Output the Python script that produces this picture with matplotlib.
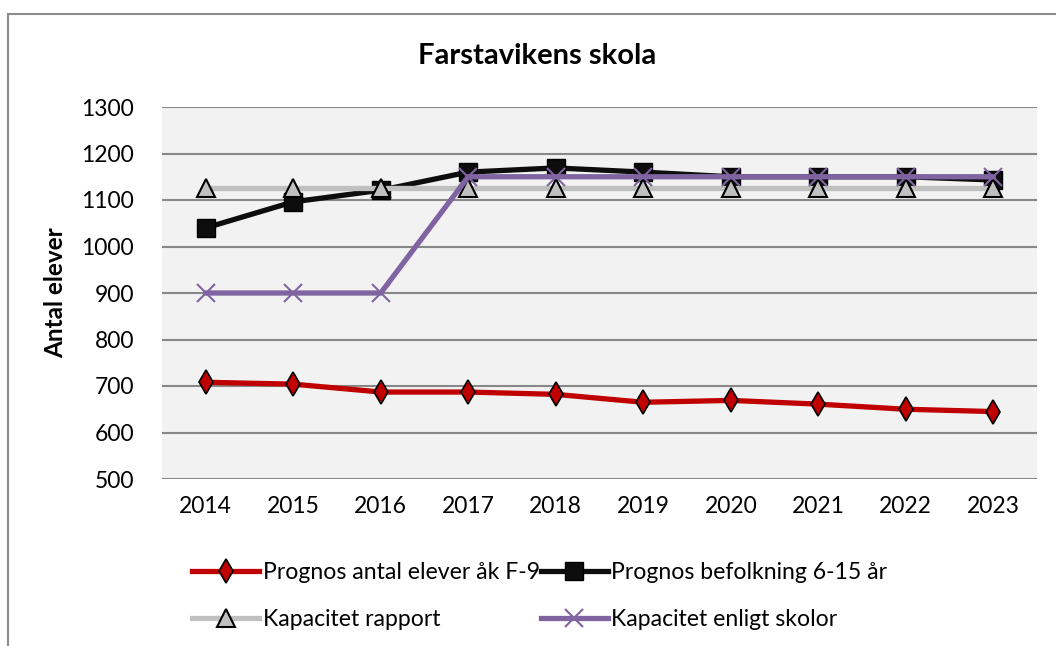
import matplotlib.pyplot as plt
from matplotlib.patches import Rectangle

plt.rcParams['font.family'] = ['Lato', 'DejaVu Sans']

years = [2014, 2015, 2016, 2017, 2018, 2019, 2020, 2021, 2022, 2023]
elever = [708, 704, 687, 687, 682, 665, 669, 661, 650, 645]
befolkning = [1040, 1096, 1121, 1160, 1169, 1160, 1150, 1150, 1150, 1143]
kap_rapport = [1125, 1125, 1125, 1125, 1125, 1125, 1125, 1125, 1125, 1125]
kap_skolor = [900, 900, 900, 1150, 1150, 1150, 1150, 1150, 1150, 1150]

labels = ['Prognos antal elever åk F-9', 'Prognos befolkning 6-15 år',
          'Kapacitet rapport', 'Kapacitet enligt skolor']

fig = plt.figure(figsize=(10.56, 6.46), dpi=100)
ax = fig.add_axes([162 / 1056, 1 - 479 / 646, (1037 - 162) / 1056, (479 - 107) / 646])

# outer chart frame
fig.patches.append(Rectangle((8 / 1056, -0.1), 1.2, 1 - 14 / 646 + 0.1, transform=fig.transFigure,
                             fill=False, edgecolor='#8c8c8c', linewidth=1.5))

x = list(range(len(years)))
l1, = ax.plot(x, elever, color='#c00000', lw=3.8, marker='d', ms=12, mfc='#c00000', mec='black', mew=1.2,
              label=labels[0])
l2, = ax.plot(x, befolkning, color='#0d0d0d', lw=3.8, marker='s', ms=13, mfc='#0d0d0d', mec='black',
              label=labels[1])
l3, = ax.plot(x, kap_rapport, color='#c0c0c0', lw=3.8, marker='^', ms=13, mfc='#c0c0c0', mec='black', mew=1.5,
              label=labels[2])
l4, = ax.plot(x, kap_skolor, color='#8064a2', lw=3.8, marker='x', ms=13, mec='#8064a2', mew=1.5,
              label=labels[3])

ax.set_facecolor('#f2f2f2')
ax.set_xlim(-0.5, len(years) - 0.5)
ax.set_ylim(500, 1300)
ax.set_yticks(range(500, 1301, 100))
ax.set_xticks(x)
ax.set_xticklabels([str(y) for y in years])
ax.grid(axis='y', color='#888888', lw=1.5)
ax.set_axisbelow(True)
for s in ax.spines.values():
    s.set_visible(False)
ax.tick_params(length=0, labelsize=16.5, pad=12)
ax.tick_params(axis='y', pad=20)

ax.set_ylabel('Antal elever', fontsize=17.5, fontweight='bold', labelpad=10)
fig.text(537 / 1056, 1 - 56 / 646, 'Farstavikens skola', fontsize=21, fontweight='bold',
         ha='center', va='center')

# legend fills row by row in the original, so reorder for matplotlib's column filling
fig.legend([l1, l3, l2, l4], [labels[0], labels[2], labels[1], labels[3]],
           loc='upper left', bbox_to_anchor=(183 / 1056, 1 - 553 / 646), ncol=2, frameon=False,
           fontsize=16.6, handlelength=2.9, handletextpad=0.15, columnspacing=0.05, labelspacing=1.1,
           numpoints=1, borderaxespad=0)

fig.savefig('out.png', dpi=100)
